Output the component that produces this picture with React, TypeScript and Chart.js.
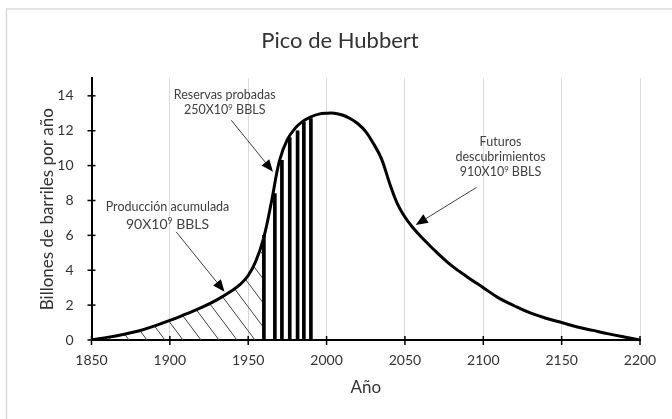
import React, { useEffect, useRef } from "react";
import { Chart, registerables } from "chart.js";

const CHART_TITLE = "Pico de Hubbert";
const X_AXIS_TITLE = "Año";
const Y_AXIS_TITLE = "Billones de barriles por año";

const X_TICKS = [1850, 1900, 1950, 2000, 2050, 2100, 2150, 2200];
const Y_TICKS = [0, 2, 4, 6, 8, 10, 12, 14];

const YEARS = [
  1850, 1860, 1870, 1880, 1890, 1900, 1910, 1920, 1930, 1940, 1945, 1950, 1955, 1960, 1965,
  1970, 1975, 1980, 1985, 1990, 1995, 2000, 2005, 2010, 2015, 2020, 2025, 2030, 2035, 2040,
  2045, 2050, 2055, 2060, 2070, 2080, 2090, 2100, 2110, 2120, 2130, 2140, 2150, 2160, 2170,
  2180, 2190, 2200,
];
const PRODUCTION = [
  0, 0.15, 0.32, 0.52, 0.8, 1.12, 1.48, 1.85, 2.3, 2.85, 3.2, 3.7, 4.55, 5.9, 8.0,
  10.3, 11.5, 12.15, 12.55, 12.8, 12.95, 13.0, 13.0, 12.9, 12.7, 12.4, 11.95, 11.25, 10.4, 9.05,
  7.85, 7.05, 6.45, 5.95, 5.05, 4.25, 3.6, 3.0, 2.4, 1.95, 1.55, 1.25, 1.0, 0.75, 0.55,
  0.35, 0.17, 0,
];

const CUMULATIVE_END_YEAR = 1960;

const RESERVE_YEARS = [1960, 1967, 1971.5, 1976.5, 1981.5, 1985.5, 1990];
const RESERVE_HEIGHTS = [6.0, 8.4, 10.3, 11.6, 12.0, 12.5, 12.7];

const NOTE_TEXTS = [
  ["Reservas probadas", "250X10⁹ BBLS"],
  ["Producción acumulada", "90X10⁹ BBLS"],
  ["Futuros", "descubrimientos", "910X10⁹ BBLS"],
];

// annotation placement (data coordinates) and styling
const ANNOTATIONS = [
  { x: 1935, ys: [14.06, 13.22], sizes: [12.5, 12.5], from: [1939.2, 12.6], to: [1965.8, 9.65] },
  { x: 1898.5, ys: [7.64, 6.65], sizes: [12.5, 14], from: [1904, 6.2], to: [1934.9, 2.77] },
  { x: 2111, ys: [11.4, 10.54, 9.64], sizes: [12.5, 12.5, 12.5], from: [2095.7, 8.75], to: [2056.9, 6.6] },
];

const FONT = "Lato, 'Open Sans', sans-serif";
const SUP = "⁹";
const HATCH_INDEX = 2;

// clips the hatched (cumulative production) fill to the years up to CUMULATIVE_END_YEAR;
// registered before the built-in filler so its clip is active while the fill is drawn
const hatchClipPlugin = {
  id: "hatchClip",
  beforeDatasetDraw(chart: any, args: any) {
    if (args.index !== HATCH_INDEX) return;
    const a = chart.chartArea;
    const xr = chart.scales.x.getPixelForValue(CUMULATIVE_END_YEAR);
    chart.ctx.save();
    chart.ctx.beginPath();
    chart.ctx.rect(a.left, a.top, xr - a.left, a.bottom - a.top);
    chart.ctx.clip();
  },
  afterDatasetDraw(chart: any, args: any) {
    if (args.index !== HATCH_INDEX) return;
    chart.ctx.restore();
  },
};

Chart.register(hatchClipPlugin);
Chart.register(...registerables);

function makeHatch(): CanvasPattern | string {
  const w = 18;
  const h = 24;
  const c = document.createElement("canvas");
  c.width = w;
  c.height = h;
  const g = c.getContext("2d");
  if (!g) return "rgba(0,0,0,0.2)";
  g.strokeStyle = "#404040";
  g.lineWidth = 1;
  for (const dx of [-w, 0, w]) {
    g.beginPath();
    g.moveTo(dx, 0);
    g.lineTo(dx + w, h);
    g.stroke();
  }
  return g.createPattern(c, "repeat") || "rgba(0,0,0,0.2)";
}

const framePlugin = {
  id: "frame",
  afterDraw(chart: any) {
    const { ctx, width, height } = chart;
    ctx.save();
    ctx.strokeStyle = "#d9d9d9";
    ctx.lineWidth = 1.5;
    ctx.beginPath();
    ctx.moveTo(6.5, height);
    ctx.lineTo(6.5, 9);
    ctx.lineTo(width, 9);
    ctx.stroke();
    ctx.restore();
  },
};

const crossTicksPlugin = {
  id: "crossTicks",
  afterDatasetsDraw(chart: any) {
    const { ctx } = chart;
    const xs = chart.scales.x;
    const ys = chart.scales.y;
    const y0 = ys.getPixelForValue(0);
    const x0 = xs.getPixelForValue(X_TICKS[0]);
    ctx.save();
    ctx.strokeStyle = "#000";
    ctx.lineWidth = 1.5;
    X_TICKS.forEach((v) => {
      const px = xs.getPixelForValue(v);
      ctx.beginPath();
      ctx.moveTo(px, y0 - 4);
      ctx.lineTo(px, y0 + 5);
      ctx.stroke();
    });
    Y_TICKS.forEach((v) => {
      const py = ys.getPixelForValue(v);
      ctx.beginPath();
      ctx.moveTo(x0 - 4, py);
      ctx.lineTo(x0 + 4, py);
      ctx.stroke();
    });
    ctx.restore();
  },
};

function drawLine(ctx: CanvasRenderingContext2D, text: string, cx: number, cy: number, size: number) {
  const parts = text.split(SUP);
  const supSize = size * 0.62;
  const segs: { t: string; s: number; dy: number }[] = [];
  parts.forEach((p, i) => {
    if (p) segs.push({ t: p, s: size, dy: 0 });
    if (i < parts.length - 1) segs.push({ t: "9", s: supSize, dy: -size * 0.33 });
  });
  let total = 0;
  segs.forEach((sg) => {
    ctx.font = `${sg.s}px ${FONT}`;
    total += ctx.measureText(sg.t).width;
  });
  let x = cx - total / 2;
  ctx.textAlign = "left";
  ctx.textBaseline = "alphabetic";
  const base = cy + size * 0.36;
  segs.forEach((sg) => {
    ctx.font = `${sg.s}px ${FONT}`;
    ctx.fillText(sg.t, x, base + sg.dy);
    x += ctx.measureText(sg.t).width;
  });
}

const annotationPlugin = {
  id: "notes",
  afterDatasetsDraw(chart: any) {
    const { ctx } = chart;
    const xs = chart.scales.x;
    const ys = chart.scales.y;
    ctx.save();
    ANNOTATIONS.forEach((a, i) => {
      const px = xs.getPixelForValue(a.x);
      ctx.fillStyle = "#404040";
      NOTE_TEXTS[i].forEach((line, j) => {
        drawLine(ctx, line, px, ys.getPixelForValue(a.ys[j]), a.sizes[j]);
      });
      const x1 = xs.getPixelForValue(a.from[0]);
      const y1 = ys.getPixelForValue(a.from[1]);
      const x2 = xs.getPixelForValue(a.to[0]);
      const y2 = ys.getPixelForValue(a.to[1]);
      const ang = Math.atan2(y2 - y1, x2 - x1);
      const L = 12;
      const W = 5;
      const bx = x2 - L * Math.cos(ang);
      const by = y2 - L * Math.sin(ang);
      ctx.strokeStyle = "#404040";
      ctx.lineWidth = 1;
      ctx.beginPath();
      ctx.moveTo(x1, y1);
      ctx.lineTo(bx, by);
      ctx.stroke();
      ctx.fillStyle = "#000";
      ctx.beginPath();
      ctx.moveTo(x2, y2);
      ctx.lineTo(bx + W * Math.sin(ang), by - W * Math.cos(ang));
      ctx.lineTo(bx - W * Math.sin(ang), by + W * Math.cos(ang));
      ctx.closePath();
      ctx.fill();
    });
    ctx.restore();
  },
};

export default function App() {
  const ref = useRef<HTMLCanvasElement>(null);

  useEffect(() => {
    const canvas = ref.current;
    if (!canvas) return;
    Chart.defaults.font.family = FONT;

    const curve = YEARS.map((x, i) => ({ x, y: PRODUCTION[i] }));
    const reserves = RESERVE_YEARS.map((x, i) => ({ x, y: RESERVE_HEIGHTS[i] }));

    const chart = new Chart(canvas, {
      type: "line",
      data: {
        datasets: [
          {
            type: "line",
            data: curve,
            borderColor: "#000",
            borderWidth: 3,
            pointRadius: 0,
            tension: 0.4,
            fill: false,
          } as any,
          {
            type: "bar",
            data: reserves,
            backgroundColor: "#000",
            barThickness: 3,
            grouped: false,
          } as any,
          {
            type: "line",
            data: curve,
            borderWidth: 0,
            borderColor: "rgba(0,0,0,0)",
            pointRadius: 0,
            tension: 0.4,
            fill: "origin",
            backgroundColor: makeHatch(),
          } as any,
        ],
      },
      options: {
        animation: false,
        responsive: true,
        maintainAspectRatio: false,
        layout: { padding: { left: 20, right: 12, top: 0, bottom: 0 } },
        plugins: {
          legend: { display: false },
          tooltip: { enabled: false },
          title: {
            display: true,
            text: CHART_TITLE,
            color: "#333",
            font: { size: 22, weight: "normal", family: FONT },
            padding: { top: 28, bottom: 24 },
          },
        },
        scales: {
          x: {
            type: "linear",
            min: 1850,
            max: 2200,
            offset: false,
            afterBuildTicks: (s: any) => {
              s.ticks = X_TICKS.map((value) => ({ value }));
            },
            afterFit: (s: any) => {
              s.height = 79;
            },
            ticks: {
              color: "#333",
              font: { size: 14 },
              padding: 12,
              maxRotation: 0,
              callback: (v: any) => String(v),
            },
            grid: { display: true, color: "#d9d9d9", lineWidth: 1, drawTicks: false, offset: false },
            border: { display: true, color: "#000", width: 2 },
            title: {
              display: true,
              text: X_AXIS_TITLE,
              color: "#333",
              font: { size: 17 },
              padding: { top: 0, bottom: 21 },
            },
          },
          y: {
            type: "linear",
            min: 0,
            max: 15,
            afterBuildTicks: (s: any) => {
              s.ticks = Y_TICKS.map((value) => ({ value }));
            },
            afterFit: (s: any) => {
              s.width = 71.5;
            },
            ticks: { color: "#333", font: { size: 14 }, padding: 18 },
            grid: { display: false, drawTicks: false },
            border: { display: true, color: "#000", width: 2 },
            title: {
              display: true,
              text: Y_AXIS_TITLE,
              color: "#333",
              font: { size: 17 },
              padding: { top: 17, bottom: 0 },
            },
          },
          y2: {
            type: "linear",
            position: "right",
            display: true,
            afterFit: (s: any) => {
              s.width = 20;
            },
            ticks: { display: false },
            grid: { display: false, drawTicks: false },
            border: { display: false },
          },
        },
      },
      plugins: [framePlugin, crossTicksPlugin, annotationPlugin],
    });

    return () => chart.destroy();
  }, []);

  return (
    <div style={{ position: "fixed", left: 0, top: 0, width: 672, height: 419, background: "#fff" }}>
      <canvas ref={ref} />
    </div>
  );
}
